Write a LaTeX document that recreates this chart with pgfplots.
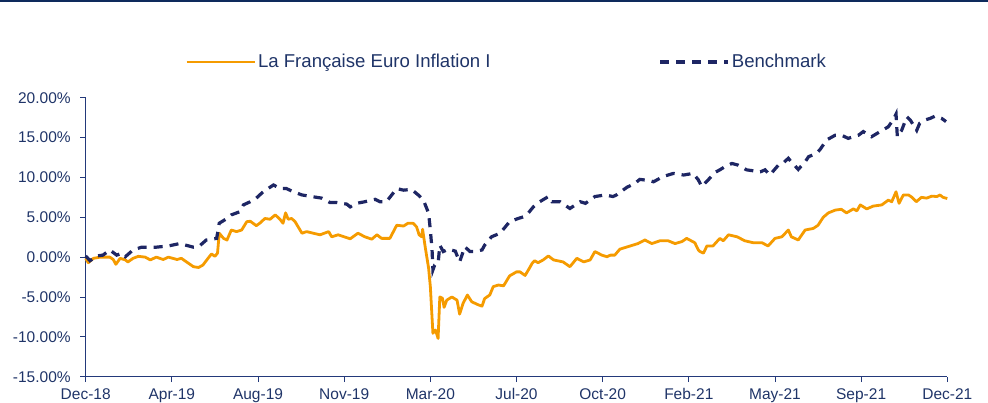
\documentclass[border=0pt]{standalone}
\usepackage{pgfplots}
\pgfplotsset{compat=1.18}
\usepackage{fontspec}
\setmainfont{Liberation Sans}
\definecolor{navy}{HTML}{1E2664}
\definecolor{txt}{HTML}{1F3468}
\definecolor{axcol}{HTML}{23397A}
\definecolor{orng}{HTML}{F59B00}
\definecolor{topline}{HTML}{0E2A5C}
\begin{document}
\begin{tikzpicture}
\useasboundingbox (-85.7pt,-26.3pt) rectangle (902.3pt,376.7pt);
\fill[topline] (-85.7pt,374.6pt) rectangle (902.3pt,376.7pt);
\begin{axis}[
  at={(0pt,0pt)}, anchor=south west,
  scale only axis, width=861.6pt, height=279pt,
  xmin=0, xmax=10, ymin=-15, ymax=20,
  axis x line*=bottom, axis y line*=left,
  axis line style={axcol, line width=0.9pt},
  xtick={0,1,...,10},
  xticklabels={Dec-18,Apr-19,Aug-19,Nov-19,Mar-20,Jul-20,Oct-20,Feb-21,May-21,Sep-21,Dec-21},
  ytick={-15,-10,-5,0,5,10,15,20},
  yticklabels={-15.00\%,-10.00\%,-5.00\%,0.00\%,5.00\%,10.00\%,15.00\%,20.00\%},
  tick align=outside, major tick length=5.5pt,
  tick style={axcol, line width=0.9pt},
  x tick label style={font=\fontsize{15.5}{18}\selectfont, text=txt, yshift=-2.5pt},
  y tick label style={font=\fontsize{15.5}{18}\selectfont, text=txt, xshift=-6pt},
  legend style={at={(0.1118,1.128)}, anchor=west, draw=none, fill=none,
    font=\fontsize{18.6}{21}\selectfont, text=txt,
    /tikz/every even column/.append style={column sep=166pt}},
  legend columns=2,
  legend image code/.code={\draw[#1] (0pt,0pt) -- (68pt,0pt);},
  clip=false,
]
\addplot[orng, line width=2.8pt, line join=round] coordinates {
(0,-0.15) (0.03,-0.7) (0.09,-0.15) (0.17,0) (0.28,0) (0.32,-0.3) (0.35,-0.9) (0.40,-0.15)
(0.46,-0.35) (0.49,-0.6) (0.55,-0.15) (0.61,0.1) (0.69,0) (0.75,-0.35) (0.82,0) (0.90,-0.3)
(0.96,0) (1.06,-0.3) (1.11,-0.15) (1.17,-0.6) (1.25,-1.2) (1.31,-1.3) (1.36,-1.0) (1.42,-0.15)
(1.46,0.4) (1.50,0.1) (1.53,0.5) (1.55,3.0) (1.60,2.35) (1.64,2.15) (1.69,3.4) (1.75,3.2)
(1.81,3.4) (1.87,4.45) (1.91,4.5) (1.98,3.95) (2.02,4.25) (2.08,4.85) (2.14,4.75) (2.20,5.3)
(2.255,4.75) (2.29,4.25) (2.32,5.55) (2.35,4.75) (2.39,4.85) (2.43,4.45) (2.51,3.0) (2.565,3.2)
(2.64,3.0) (2.72,2.8) (2.82,3.2) (2.855,2.55) (2.93,2.8) (3.07,2.3) (3.16,3.0) (3.24,2.55)
(3.32,2.25) (3.38,2.8) (3.435,2.35) (3.53,2.35) (3.61,4.0) (3.69,3.9) (3.74,4.25) (3.80,4.25)
(3.84,3.8) (3.87,2.8) (3.90,2.55) (3.91,3.5) (3.94,1.3) (3.98,-1.4) (4.00,-3.7) (4.03,-9.55)
(4.06,-9.15) (4.09,-10.2) (4.11,-5.0) (4.14,-5.15) (4.16,-6.3) (4.19,-5.4) (4.25,-5.0) (4.31,-5.4)
(4.34,-7.15) (4.38,-5.8) (4.43,-4.75) (4.48,-5.6) (4.56,-6.0) (4.60,-6.15) (4.63,-5.2) (4.69,-4.75)
(4.73,-3.7) (4.79,-3.5) (4.85,-3.6) (4.92,-2.35) (5.00,-1.85) (5.04,-1.85) (5.10,-2.3) (5.16,-1.2)
(5.18,-0.8) (5.21,-0.45) (5.25,-0.7) (5.31,-0.35) (5.37,0.15) (5.43,-0.35) (5.54,-0.6) (5.62,-1.2)
(5.70,-0.15) (5.78,-0.6) (5.855,-0.35) (5.91,0.7) (5.99,0.25) (6.05,0.05) (6.09,0.25) (6.14,0.25)
(6.20,1.0) (6.32,1.4) (6.41,1.7) (6.49,2.15) (6.57,1.7) (6.665,2.05) (6.76,2.05) (6.84,1.7)
(6.92,1.95) (6.975,2.35) (7.01,2.15) (7.07,1.8) (7.11,0.9) (7.13,0.7) (7.17,0.5) (7.21,1.4)
(7.28,1.4) (7.36,2.35) (7.40,2.05) (7.46,2.8) (7.56,2.55) (7.65,2.05) (7.75,1.8) (7.85,1.8)
(7.92,1.4) (8.00,2.35) (8.08,2.55) (8.155,3.4) (8.19,2.55) (8.27,2.15) (8.35,3.4) (8.445,3.6)
(8.50,4.0) (8.56,5.0) (8.62,5.55) (8.70,5.9) (8.77,6.0) (8.83,5.55) (8.91,6.05) (8.95,5.8)
(8.99,6.55) (9.065,6.05) (9.14,6.4) (9.24,6.55) (9.315,7.15) (9.355,6.95) (9.405,8.2) (9.44,6.75)
(9.49,7.8) (9.55,7.8) (9.59,7.5) (9.64,6.95) (9.70,7.5) (9.76,7.4) (9.82,7.65) (9.88,7.6)
(9.915,7.8) (9.95,7.5) (10.0,7.35)
};
\addlegendentry{La Française Euro Inflation I}
\addplot[navy, line width=3.2pt, dash pattern=on 9pt off 7pt] coordinates {
(0,0.15) (0.05,-0.45) (0.13,0.15) (0.20,0.25) (0.28,0.9) (0.36,0.25) (0.42,0.5) (0.46,0.05)
(0.55,0.9) (0.65,1.25) (0.82,1.25) (0.96,1.4) (1.09,1.7) (1.25,1.25) (1.31,1.3) (1.40,2.15)
(1.52,2.35) (1.55,4.25) (1.64,4.85) (1.69,5.3) (1.79,5.7) (1.83,6.55) (1.91,6.95) (1.98,7.4)
(2.06,8.2) (2.18,9.05) (2.255,8.6) (2.33,8.6) (2.41,8.2) (2.51,7.8) (2.62,7.6) (2.74,7.4)
(2.835,6.85) (2.91,6.85) (3.03,6.65) (3.07,6.3) (3.145,6.75) (3.24,6.95) (3.36,7.25) (3.415,6.95)
(3.49,6.95) (3.61,8.6) (3.69,8.4) (3.78,8.5) (3.86,7.8) (3.92,7.15) (3.98,5.5) (4.00,3.4)
(4.02,0.9) (4.03,-1.6) (4.05,-1.0) (4.09,-0.8) (4.11,1.5) (4.15,0.7) (4.21,1.0) (4.29,0.75)
(4.34,-0.6) (4.40,1.3) (4.46,0.7) (4.52,0.7) (4.60,0.9) (4.63,1.5) (4.71,2.55) (4.81,3.0)
(4.92,4.45) (5.02,4.85) (5.08,5.05) (5.12,5.3) (5.195,6.3) (5.27,6.95) (5.37,7.6) (5.41,6.95)
(5.505,6.95) (5.62,6.1) (5.74,6.95) (5.80,6.75) (5.91,7.6) (6.03,7.8) (6.12,7.6) (6.16,7.8)
(6.28,8.75) (6.375,9.25) (6.43,9.75) (6.55,9.6) (6.59,9.45) (6.70,10.1) (6.82,10.5) (6.94,10.3)
(7.05,10.5) (7.11,9.7) (7.15,8.85) (7.23,9.75) (7.30,10.6) (7.36,10.95) (7.42,11.35) (7.50,11.75)
(7.57,11.55) (7.67,10.95) (7.83,10.7) (7.885,10.95) (7.94,10.3) (8.04,11.55) (8.10,11.85) (8.155,12.4)
(8.19,11.95) (8.27,11.0) (8.35,11.95) (8.39,12.6) (8.48,13.0) (8.52,13.45) (8.60,14.7) (8.70,15.3)
(8.77,15.3) (8.85,14.9) (8.91,15.1) (8.97,15.3) (9.025,15.75) (9.12,15.1) (9.22,15.75) (9.315,16.35)
(9.37,17.2) (9.405,17.95) (9.42,15.1) (9.47,15.9) (9.53,17.6) (9.57,17.2) (9.645,15.9) (9.68,16.8)
(9.74,17.2) (9.80,17.4) (9.86,17.7) (9.935,17.4) (9.985,17.0)
};
\addlegendentry{Benchmark}
\end{axis}
\end{tikzpicture}
\end{document}
